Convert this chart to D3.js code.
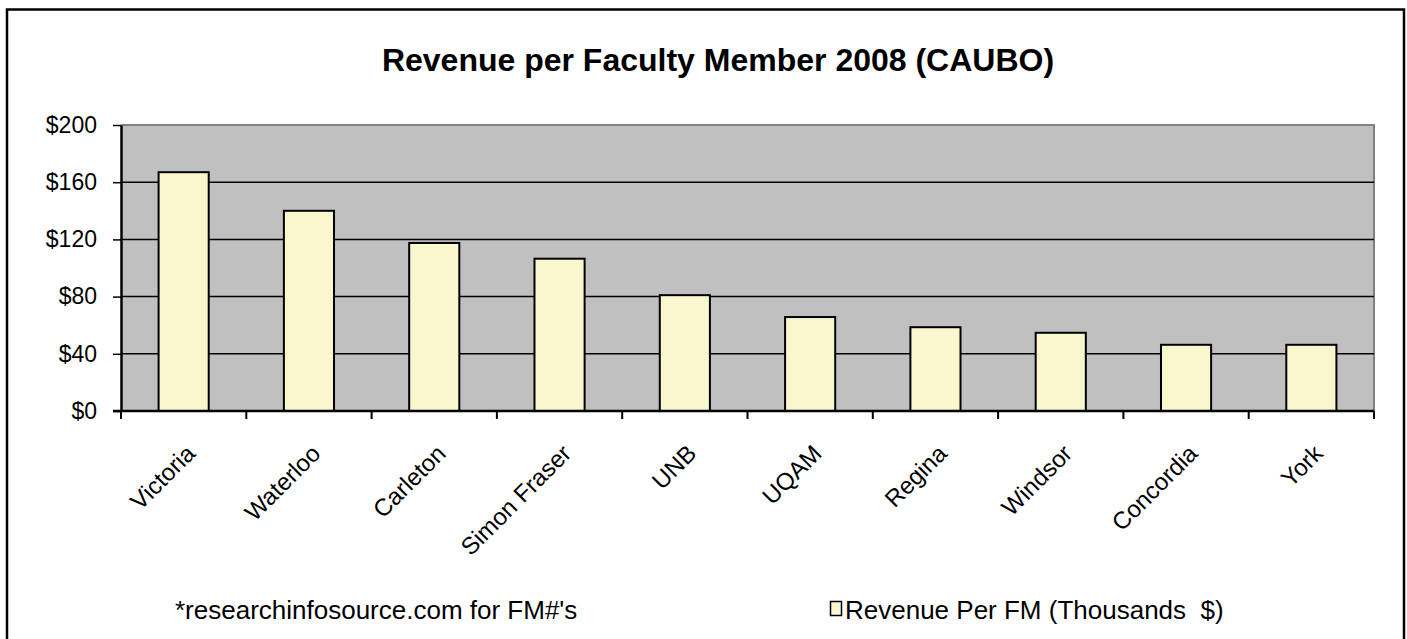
<!DOCTYPE html>
<html><head><meta charset="utf-8">
<script src="https://cdn.jsdelivr.net/npm/d3@7"></script>
<style>body{margin:0;background:#fff}svg{display:block}text{font-family:"Liberation Sans",Arial,sans-serif;fill:#000}</style>
</head><body>
<svg id="c" width="1407" height="639"></svg>
<script>
const categories = ["Victoria","Waterloo","Carleton","Simon Fraser","UNB","UQAM","Regina","Windsor","Concordia","York"];
const revenue = [167, 140, 117.5, 106.5, 81, 65.7, 58.6, 54.7, 46.3, 46.3];
const yTicks = [0, 40, 80, 120, 160, 200];
const title = "Revenue per Faculty Member 2008 (CAUBO)";
const footnote = "*researchinfosource.com for FM#'s";
const legendLabel = "Revenue Per FM (Thousands  $)";

const svg = d3.select("#c");
const L = 121, R = 1374, T = 125, B = 411;

// outer border
svg.append("rect").attr("x", 7).attr("y", 9.5).attr("width", 1397).attr("height", 700)
  .attr("fill", "none").attr("stroke", "#000").attr("stroke-width", 2.5);

svg.append("text").attr("x", 718).attr("y", 71).attr("text-anchor", "middle")
  .attr("font-size", 32).attr("font-weight", "bold").text(title);

const x = d3.scaleBand().domain(categories).range([L, R]).paddingInner(0.6).paddingOuter(0.3);
const xb = d3.scaleBand().domain(categories).range([L, R]);
const y = d3.scaleLinear().domain([0, 200]).range([B, T]);

// plot area
svg.append("rect").attr("x", L).attr("y", T).attr("width", R - L).attr("height", B - T).attr("fill", "#c0c0c0");
svg.append("path").attr("d", `M${L},${T}H${R}V${B}`).attr("fill", "none").attr("stroke", "#808080").attr("stroke-width", 2);

// gridlines
svg.append("g").selectAll("line").data(yTicks.filter(d => d > 0 && d < 200)).join("line")
  .attr("x1", L).attr("x2", R).attr("y1", d => y(d)).attr("y2", d => y(d))
  .attr("stroke", "#000").attr("stroke-width", 1.5);

// bars
svg.append("g").selectAll("rect").data(revenue).join("rect")
  .attr("x", (d, i) => x(categories[i])).attr("width", x.bandwidth())
  .attr("y", d => y(d)).attr("height", d => B - y(d))
  .attr("fill", "#faf7cf").attr("stroke", "#000").attr("stroke-width", 2);

// y axis
const ya = svg.append("g").attr("transform", `translate(${L},0)`)
  .call(d3.axisLeft(y).tickValues(yTicks).tickFormat(d => "$" + d).tickSizeInner(8).tickSizeOuter(0).tickPadding(16));
ya.select(".domain").attr("stroke", "#000").attr("stroke-width", 2.5);
ya.selectAll(".tick line").attr("stroke", "#000").attr("stroke-width", 1.5);
ya.selectAll(".tick text").attr("font-size", 23).attr("font-family", "Liberation Sans, Arial, sans-serif").attr("fill", "#000");

// x axis baseline and ticks
const boundaries = categories.map(c => xb(c)).concat([R]);
svg.append("line").attr("x1", L - 8).attr("x2", R).attr("y1", B).attr("y2", B).attr("stroke", "#000").attr("stroke-width", 2.5);
svg.append("g").selectAll("line").data(boundaries).join("line")
  .attr("x1", d => d).attr("x2", d => d).attr("y1", B).attr("y2", B + 8)
  .attr("stroke", "#000").attr("stroke-width", 2);

// x labels
svg.append("g").selectAll("text").data(categories).join("text")
  .attr("transform", d => `translate(${xb(d) + xb.bandwidth() / 2 + 13},${B + 44}) rotate(-45)`)
  .attr("text-anchor", "end").attr("font-size", 24).text(d => d);

// footnote
svg.append("text").attr("x", 175).attr("y", 619).attr("font-size", 26).text(footnote);

// legend
svg.append("rect").attr("x", 830.5).attr("y", 601.5).attr("width", 11).attr("height", 14)
  .attr("fill", "#faf7cf").attr("stroke", "#000").attr("stroke-width", 1.5);
svg.append("text").attr("x", 845).attr("y", 619).attr("font-size", 26)
  .style("white-space", "pre").text(legendLabel);
</script>
</body></html>
